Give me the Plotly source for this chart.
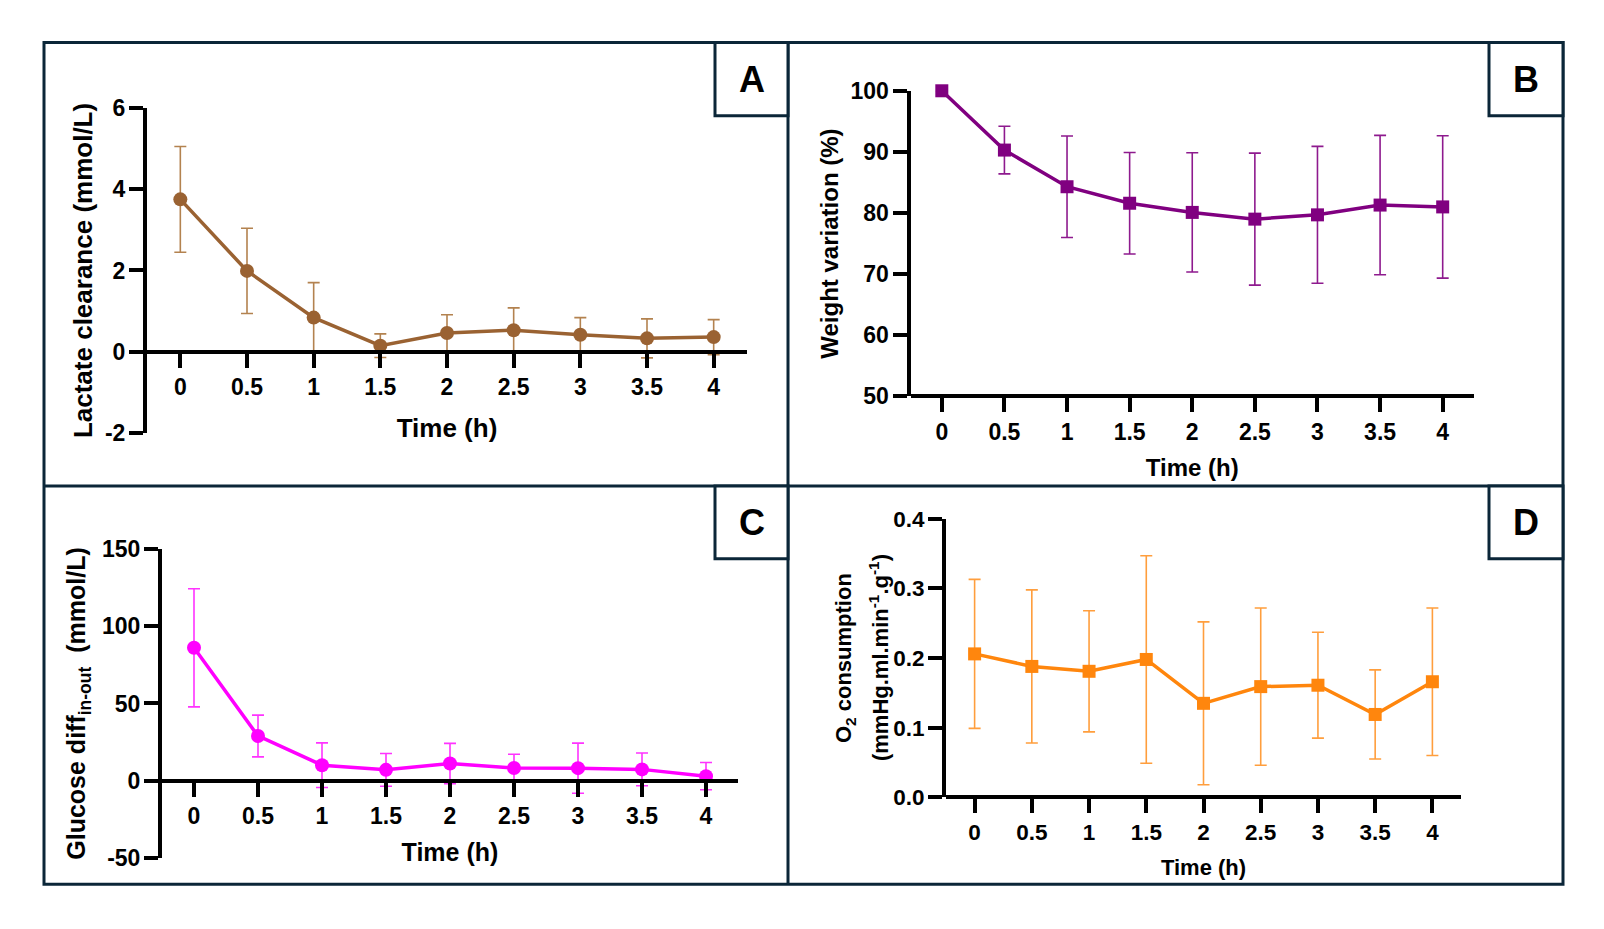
import plotly.graph_objects as go

# page has an 8px body margin, so the figure is 16px smaller than the window
PAGE_W, PAGE_H, OFF = 1604, 929, 8
W, H = PAGE_W - 2 * OFF, PAGE_H - 2 * OFF
FONT = "Arial, Liberation Sans, sans-serif"
FRAME = "#0b2638"

TIME = [0, 0.5, 1, 1.5, 2, 2.5, 3, 3.5, 4]
TIME_LABELS = ["0", "0.5", "1", "1.5", "2", "2.5", "3", "3.5", "4"]

# Panel A - lactate clearance (mmol/L), mean and SD
LACTATE = [3.75, 1.99, 0.84, 0.15, 0.46, 0.53, 0.42, 0.33, 0.36]
LACTATE_SD = [1.30, 1.05, 0.86, 0.29, 0.45, 0.55, 0.42, 0.48, 0.43]
LACTATE_TICKS = [-2, 0, 2, 4, 6]
LACTATE_LABELS = ["-2", "0", "2", "4", "6"]
# Panel B - weight variation (%)
WEIGHT = [100, 90.3, 84.3, 81.6, 80.1, 79.0, 79.7, 81.3, 81.0]
WEIGHT_SD = [0, 3.9, 8.3, 8.3, 9.75, 10.8, 11.2, 11.4, 11.65]
WEIGHT_TICKS = [50, 60, 70, 80, 90, 100]
WEIGHT_LABELS = ["50", "60", "70", "80", "90", "100"]
# Panel C - glucose difference in-out (mmol/L)
GLUCOSE = [86.0, 29.0, 10.1, 7.1, 11.2, 8.3, 8.2, 7.4, 3.0]
GLUCOSE_SD = [38.2, 13.5, 14.4, 10.6, 13.0, 8.9, 16.2, 10.6, 8.8]
GLUCOSE_TICKS = [-50, 0, 50, 100, 150]
GLUCOSE_LABELS = ["-50", "0", "50", "100", "150"]
# Panel D - O2 consumption (mmHg.ml.min-1.g-1)
O2 = [0.206, 0.188, 0.181, 0.198, 0.135, 0.159, 0.161, 0.119, 0.166]
O2_SD = [0.107, 0.110, 0.087, 0.149, 0.117, 0.113, 0.076, 0.064, 0.106]
O2_TICKS = [0, 0.1, 0.2, 0.3, 0.4]
O2_LABELS = ["0.0", "0.1", "0.2", "0.3", "0.4"]


def X(p):
    return (p - OFF) / W


def Y(p):
    # vertical calibration measured against an earlier screenshot
    q = 1.0273 * p - 13.76
    return 1 - (q - OFF) / H


panels = [
    dict(v=LACTATE, sd=LACTATE_SD, c="#9a6232", ec="#b3824f", sym="circle", ms=14,
         yr=[-2, 6], yt=LACTATE_TICKS, ytt=LACTATE_LABELS, cross=0,
         box=(147, 747, 108.3, 434), ytitle="Lactate clearance (mmol/L)",
         tf=23, ttf=26, xs=18, ys=6),
    dict(v=WEIGHT, sd=WEIGHT_SD, c="#800080", ec="#8e1a8e", sym="square", ms=13,
         yr=[50, 100], yt=WEIGHT_TICKS, ytt=WEIGHT_LABELS, cross=50,
         box=(910.5, 1474, 91.1, 397.3), ytitle="Weight variation (%)",
         tf=23, ttf=24, xs=14, ys=6),
    dict(v=GLUCOSE, sd=GLUCOSE_SD, c="#ff00ff", ec="#ff33ff", sym="circle", ms=14,
         yr=[-50, 150], yt=GLUCOSE_TICKS, ytt=GLUCOSE_LABELS, cross=0,
         box=(162, 738, 550, 860),
         ytitle="Glucose diff<sub>in-out</sub>&nbsp;&nbsp;(mmol/L)",
         tf=23, ttf=25, xs=14, ys=10),
    dict(v=O2, sd=O2_SD, c="#ff860d", ec="#ff9e3d", sym="square", ms=13,
         yr=[0, 0.4], yt=O2_TICKS, ytt=O2_LABELS, cross=0,
         box=(946, 1461, 520, 799), ytitle="",
         tf=22.5, ttf=22, xs=14, ys=7),
]

fig = go.Figure()
layout = {}
for i, p in enumerate(panels, start=1):
    sfx = "" if i == 1 else str(i)
    fig.add_trace(go.Scatter(
        x=TIME, y=p["v"], mode="lines+markers", xaxis="x" + sfx, yaxis="y" + sfx,
        line=dict(color=p["c"], width=3.5),
        marker=dict(symbol=p["sym"], size=p["ms"], color=p["c"]),
        error_y=dict(type="data", array=p["sd"], visible=True, color=p["ec"],
                     thickness=1.6, width=6),
        cliponaxis=False, showlegend=False))
    x0, x1, ytop, ybot = p["box"]
    ydom = [Y(ybot), Y(ytop)]
    pos = ydom[0] + (p["cross"] - p["yr"][0]) / (p["yr"][1] - p["yr"][0]) * (ydom[1] - ydom[0])
    axis_common = dict(ticks="outside", ticklen=14, tickwidth=4, showline=True, linewidth=4,
                       linecolor="black", tickcolor="black", showgrid=False, zeroline=False,
                       tickfont=dict(family=FONT, size=p["tf"], color="black", weight="bold"))
    layout["xaxis" + sfx] = dict(
        domain=[X(x0), X(x1)], range=[-0.25, 4.25], anchor="free", position=pos,
        tickvals=TIME, ticktext=TIME_LABELS, ticklabelstandoff=0,
        title=dict(text="Time (h)", standoff=p["xs"],
                   font=dict(family=FONT, size=p["ttf"], color="black", weight="bold")),
        **axis_common)
    layout["yaxis" + sfx] = dict(
        domain=ydom, range=p["yr"], anchor="x" + sfx, tickvals=p["yt"], ticktext=p["ytt"],
        ticklabelstandoff=-1,
        title=dict(text=p["ytitle"], standoff=p["ys"],
                   font=dict(family=FONT, size=p["ttf"], color="black", weight="bold")),
        **axis_common)

annotations = []
# panel D y title: two lines set a little further apart than plotly's line height
for text, xc in [("O<sub>2</sub> consumption", 845),
                 ("(mmHg.ml.min<sup>-1</sup>.g<sup>-1</sup>)", 879)]:
    annotations.append(dict(text=text, xref="paper", yref="paper", x=X(xc), y=Y(659.5),
                            textangle=-90, showarrow=False, xanchor="center", yanchor="middle",
                            font=dict(family=FONT, size=22, color="black", weight="bold")))

# panel frames and letter boxes
line = dict(color=FRAME, width=3)
shapes = [
    dict(type="rect", xref="paper", yref="paper", x0=X(44), x1=X(1563),
         y0=Y(886), y1=Y(42.7), line=line),
    dict(type="line", xref="paper", yref="paper", x0=X(788), x1=X(788),
         y0=Y(886), y1=Y(42.7), line=line),
    dict(type="line", xref="paper", yref="paper", x0=X(44), x1=X(1563),
         y0=Y(487), y1=Y(487), line=line),
]
letters = [("A", 715, 788, 42.7, 116), ("B", 1489, 1563, 42.7, 116),
           ("C", 715, 788, 487, 560), ("D", 1489, 1563, 487, 560)]
for t, a0, a1, b0, b1 in letters:
    shapes.append(dict(type="rect", xref="paper", yref="paper", x0=X(a0), x1=X(a1),
                       y0=Y(b1), y1=Y(b0), line=line, fillcolor="white"))
    annotations.append(dict(text=f"<b>{t}</b>", xref="paper", yref="paper",
                            x=X((a0 + a1) / 2), y=Y((b0 + b1) / 2), showarrow=False,
                            xanchor="center", yanchor="middle",
                            font=dict(family=FONT, size=36, color="black")))

fig.update_layout(width=W, height=H, margin=dict(l=0, r=0, t=0, b=0),
                  paper_bgcolor="white", plot_bgcolor="white",
                  shapes=shapes, annotations=annotations, **layout)
fig.write_html("out.html")
